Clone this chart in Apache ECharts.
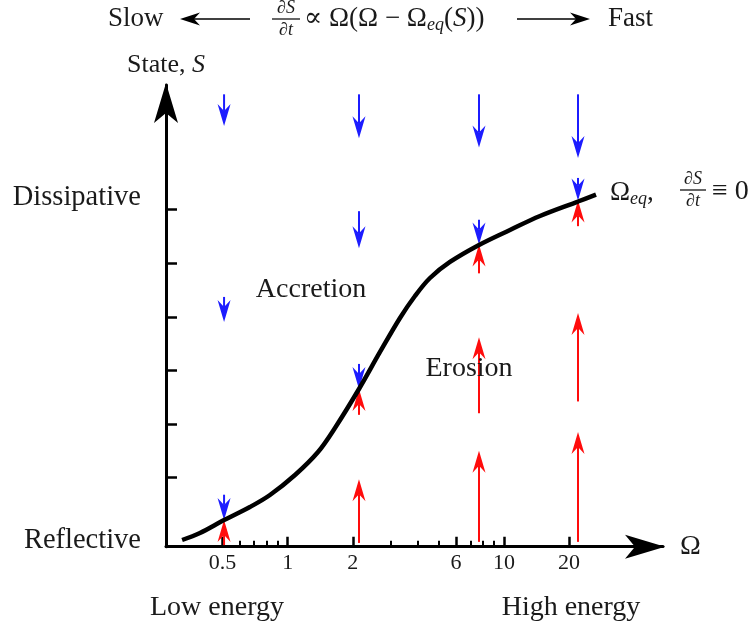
<!DOCTYPE html>
<html><head><meta charset="utf-8">
<script src="https://cdn.jsdelivr.net/npm/echarts@6/dist/echarts.min.js"></script>
<style>html,body{margin:0;padding:0;background:#fff}#c{width:754px;height:630px}</style>
</head><body><div id="c"></div>
<script>
// ---- data ----
const curveOmega = [0.325, 0.393, 0.508, 0.669, 0.828, 1.081, 1.381, 1.654, 2.136, 2.672, 3.305, 3.877, 4.549, 5.627, 7.664, 10.66, 14.67, 21.99, 26.63];
const curveState = [-0.165, -0.034, 0.208, 0.451, 0.675, 1.048, 1.477, 1.925, 2.652, 3.343, 3.977, 4.387, 4.723, 5.022, 5.339, 5.619, 5.88, 6.15, 6.28];

// accretion (blue, downward) arrows: Omega, start state, end state
const blueOmega = [0.508, 0.508, 0.508, 2.136, 2.136, 2.136, 7.664, 7.664, 21.99, 21.99];
const blueFrom  = [8.15, 4.37, 0.68, 8.15, 5.97, 3.12, 8.15, 5.81, 8.15, 6.59];
const blueTo    = [7.56, 3.90, 0.21, 7.33, 5.28, 2.65, 7.16, 5.35, 6.96, 6.17];

// erosion (red, upward) arrows
const redOmega = [0.508, 2.136, 2.136, 7.664, 7.664, 7.664, 21.99, 21.99, 21.99];
const redFrom  = [-0.26, 2.17, -0.22, 4.81, 2.20, -0.20, 5.69, 2.42, -0.20];
const redTo    = [0.21, 2.65, 0.97, 5.35, 3.62, 1.50, 6.17, 4.07, 1.85];

const xTickValues = [0.5, 1, 2, 6, 10, 20];
const xTickLabels = ['0.5', '1', '2', '6', '10', '20'];
const xMinorTickValues = [0.6, 0.7, 0.8, 0.9, 3, 4, 5, 7, 8, 9];
const yTickValues = [1, 2, 3, 4, 5, 6];
const stateLabels = ['Reflective', 'Dissipative'];
const stateLabelValues = [-0.18, 6.23];

// ---- chart ----
const FONT = '"Liberation Serif", "DejaVu Serif", serif';
const TXT = '#1a1a1a';
const xMin = 0.2738, xMax = 54.34, yMin = -0.29, yMax = 8.324;

const chart = echarts.init(document.getElementById('c'), null, {renderer: 'canvas'});

function arrowRender(color) {
  return function (params, api) {
    const p0 = api.coord([api.value(0), api.value(1)]);
    const p1 = api.coord([api.value(0), api.value(2)]);
    const dir = p1[1] < p0[1] ? -1 : 1;
    const L = 22, W = 6.5, N = 15;
    const backY = p1[1] - dir * L;
    const notchY = p1[1] - dir * N;
    return {
      type: 'group',
      children: [
        {type: 'line', shape: {x1: p0[0], y1: p0[1], x2: p1[0], y2: notchY}, style: {stroke: color, lineWidth: 2}},
        {type: 'polygon', shape: {points: [[p1[0], p1[1]], [p1[0] + W, backY], [p1[0], notchY], [p1[0] - W, backY]]}, style: {fill: color}}
      ]
    };
  };
}

function textEl(x, y, text, size, align, rich) {
  return {
    type: 'text', x: x, y: y, z: 100,
    style: {text: text, fontFamily: FONT, fontSize: size, fill: TXT, align: align || 'center', verticalAlign: 'middle', rich: rich}
  };
}
function lineEl(x1, y1, x2, y2, w) {
  return {type: 'line', z: 100, shape: {x1, y1, x2, y2}, style: {stroke: '#000', lineWidth: w || 1.5}};
}
function headEl(tx, ty, dir) { // horizontal arrow head, dir=-1 pointing left, 1 right
  const L = 20, W = 6.5, N = 14;
  return {type: 'polygon', z: 100, shape: {points: [[tx, ty], [tx - dir * L, ty - W], [tx - dir * N, ty], [tx - dir * L, ty + W]]}, style: {fill: '#000'}};
}

const richMain = {
  a: {fontFamily: FONT, fontSize: 27, lineHeight: 30, color: TXT},
  i: {fontFamily: FONT, fontSize: 27, lineHeight: 30, fontStyle: 'italic', color: TXT},
  sub: {fontFamily: FONT, fontSize: 18, lineHeight: 16, fontStyle: 'italic', verticalAlign: 'bottom', color: TXT}
};
const richFrac = {
  a: {fontFamily: FONT, fontSize: 18, color: TXT},
  i: {fontFamily: FONT, fontSize: 18, fontStyle: 'italic', color: TXT}
};

const option = {
  backgroundColor: '#fff',
  animation: false,
  grid: {left: 166, right: 91, top: 85, bottom: 83.3, containLabel: false, outerBoundsMode: 'none'},
  xAxis: [
    {
      type: 'log', logBase: 10, min: xMin, max: xMax, position: 'bottom',
      name: 'Ω', nameLocation: 'end', nameGap: 17,
      nameTextStyle: {fontFamily: FONT, fontSize: 28, color: TXT, verticalAlign: 'middle', padding: [6, 0, 0, 0]},
      axisLine: {onZero: false, lineStyle: {color: '#000', width: 3}, symbol: ['none', 'arrow'], symbolSize: [18, 40], symbolOffset: [0, 2]},
      axisTick: {show: false}, axisLabel: {show: false}, splitLine: {show: false}, minorTick: {show: false}
    },
    {
      type: 'value', min: Math.log10(xMin), max: Math.log10(xMax), position: 'bottom',
      axisLine: {show: false, onZero: false},
      axisTick: {show: true, inside: true, length: 10, lineStyle: {color: '#000', width: 2.5}, customValues: xTickValues.map(v => Math.log10(v))},
      axisLabel: {
        show: true, margin: 6, fontFamily: FONT, fontSize: 22, color: TXT,
        customValues: xTickValues.map(v => Math.log10(v)),
        formatter: function (v) {
          let best = 0;
          xTickValues.forEach((t, i) => { if (Math.abs(Math.log10(t) - v) < Math.abs(Math.log10(xTickValues[best]) - v)) best = i; });
          return xTickLabels[best];
        }
      },
      splitLine: {show: false}
    },
    {
      type: 'value', min: Math.log10(xMin), max: Math.log10(xMax), position: 'bottom',
      axisLine: {show: false, onZero: false},
      axisTick: {show: true, inside: true, length: 6, lineStyle: {color: '#000', width: 2}, customValues: xMinorTickValues.map(v => Math.log10(v))},
      axisLabel: {show: false},
      splitLine: {show: false}
    }
  ],
  yAxis: [{
    type: 'value', min: yMin, max: yMax, position: 'left',
    name: '{a|State, }{i|S}', nameLocation: 'end', nameGap: 7,
    nameTextStyle: {fontFamily: FONT, fontSize: 26, color: TXT, align: 'center', rich: {
      a: {fontFamily: FONT, fontSize: 26, color: TXT},
      i: {fontFamily: FONT, fontSize: 26, fontStyle: 'italic', color: TXT}
    }},
    axisLine: {onZero: false, lineStyle: {color: '#000', width: 3}, symbol: ['none', 'arrow'], symbolSize: [18, 40], symbolOffset: [0, 2]},
    axisTick: {show: true, inside: true, length: 11, lineStyle: {color: '#000', width: 2.5}, customValues: yTickValues},
    axisLabel: {
      show: true, margin: 25, fontFamily: FONT, fontSize: 28.5, color: TXT,
      customValues: stateLabelValues,
      formatter: function (v) { return v < 3 ? stateLabels[0] : stateLabels[1]; }
    },
    splitLine: {show: false}
  }],
  series: [
    {
      type: 'custom', name: 'Accretion', xAxisIndex: 0, yAxisIndex: 0, z: 2,
      renderItem: arrowRender('#1c1cff'),
      encode: {x: 0, y: [1, 2]},
      data: blueOmega.map((o, i) => [o, blueFrom[i], blueTo[i]])
    },
    {
      type: 'custom', name: 'Erosion', xAxisIndex: 0, yAxisIndex: 0, z: 2,
      renderItem: arrowRender('#ff0c0c'),
      encode: {x: 0, y: [1, 2]},
      data: redOmega.map((o, i) => [o, redFrom[i], redTo[i]])
    },
    {
      type: 'line', name: 'Omega_eq', xAxisIndex: 0, yAxisIndex: 0, z: 5,
      smooth: 0.35, showSymbol: false, symbol: 'none',
      lineStyle: {color: '#000', width: 4.5},
      data: curveOmega.map((o, i) => [o, curveState[i]])
    }
  ],
  graphic: [
    // title line
    textEl(108, 19, 'Slow', 27, 'left'),
    lineEl(192, 19, 250, 19, 1.6),
    headEl(180, 19, -1),
    textEl(286, 8, '{a|∂}{i|S}', 18, 'center', richFrac),
    lineEl(272, 19, 300, 19, 1.2),
    textEl(286, 30, '{a|∂}{i|t}', 18, 'center', richFrac),
    textEl(304, 19, '{a|∝ Ω(Ω − Ω}{sub|eq}{a|(}{i|S}{a|))}', 27, 'left', richMain),
    lineEl(517, 19, 578, 19, 1.6),
    headEl(590, 19, 1),
    textEl(608, 19, 'Fast', 27, 'left'),
    // equilibrium curve label
    textEl(610, 193, '{a|Ω}{sub|eq}{a|,}', 27, 'left', richMain),
    textEl(693, 179, '{a|∂}{i|S}', 18, 'center', richFrac),
    lineEl(680, 190, 706, 190, 1.2),
    textEl(693, 201, '{a|∂}{i|t}', 18, 'center', richFrac),
    textEl(712, 192, '≡ 0', 28, 'left'),
    // regions
    textEl(311, 290, 'Accretion', 28, 'center'),
    textEl(469, 369, 'Erosion', 28, 'center'),
    textEl(217, 608, 'Low energy', 28, 'center'),
    textEl(571, 608, 'High energy', 28, 'center')
  ]
};
chart.setOption(option);
</script>
</body></html>
